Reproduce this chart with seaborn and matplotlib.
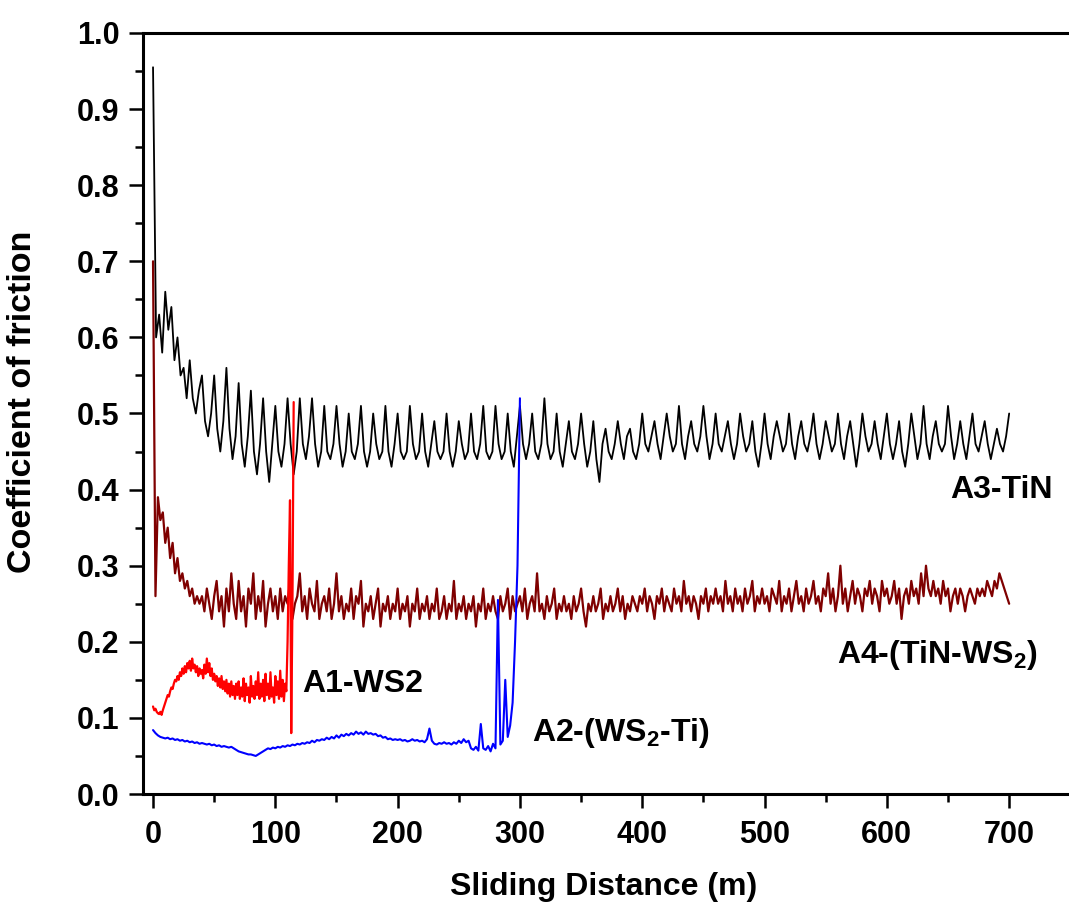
import numpy as np
import pandas as pd
import matplotlib
matplotlib.use("Agg")
import matplotlib.pyplot as plt
import seaborn as sns
from matplotlib.ticker import MultipleLocator, FormatStrFormatter

# ---------------- data ----------------
# A3-TiN (black), sampled every 2.5 m from 0 to 700 m
a3_step = 2.5
a3_cof = [
    0.955, 0.60, 0.63, 0.58, 0.66, 0.61, 0.64, 0.57, 0.60, 0.55, 0.56, 0.52,
    0.57, 0.52, 0.50, 0.53, 0.55, 0.49, 0.47, 0.50, 0.55, 0.48, 0.45, 0.49,
    0.56, 0.48, 0.44, 0.47, 0.54, 0.46, 0.43, 0.47, 0.53, 0.45, 0.42, 0.46,
    0.52, 0.45, 0.41, 0.46, 0.51, 0.45, 0.43, 0.46, 0.52, 0.46, 0.42, 0.45,
    0.52, 0.46, 0.44, 0.47, 0.52, 0.46, 0.43, 0.45, 0.51, 0.45, 0.44, 0.46,
    0.51, 0.46, 0.43, 0.45, 0.50, 0.45, 0.44, 0.46, 0.51, 0.45, 0.43, 0.45,
    0.50, 0.46, 0.44, 0.45, 0.51, 0.45, 0.43, 0.46, 0.50, 0.45, 0.44, 0.45,
    0.51, 0.46, 0.44, 0.45, 0.50, 0.45, 0.43, 0.46, 0.49, 0.45, 0.44, 0.45,
    0.50, 0.45, 0.43, 0.45, 0.49, 0.46, 0.44, 0.45, 0.50, 0.45, 0.44, 0.46,
    0.51, 0.45, 0.44, 0.45, 0.51, 0.46, 0.44, 0.45, 0.50, 0.45, 0.43, 0.47,
    0.51, 0.46, 0.44, 0.46, 0.50, 0.45, 0.44, 0.46, 0.52, 0.46, 0.44, 0.45,
    0.50, 0.45, 0.43, 0.46, 0.49, 0.45, 0.44, 0.46, 0.50, 0.46, 0.43, 0.45,
    0.49, 0.44, 0.41, 0.46, 0.48, 0.45, 0.44, 0.46, 0.49, 0.46, 0.44, 0.47,
    0.48, 0.45, 0.44, 0.46, 0.50, 0.46, 0.45, 0.47, 0.49, 0.46, 0.44, 0.47,
    0.50, 0.47, 0.45, 0.46, 0.51, 0.46, 0.44, 0.47, 0.49, 0.46, 0.45, 0.47,
    0.51, 0.47, 0.44, 0.46, 0.50, 0.46, 0.45, 0.47, 0.49, 0.46, 0.44, 0.46,
    0.50, 0.47, 0.45, 0.46, 0.49, 0.45, 0.43, 0.46, 0.50, 0.46, 0.44, 0.47,
    0.49, 0.47, 0.45, 0.46, 0.50, 0.46, 0.44, 0.47, 0.49, 0.46, 0.45, 0.47,
    0.50, 0.46, 0.44, 0.46, 0.49, 0.47, 0.45, 0.46, 0.50, 0.46, 0.44, 0.47,
    0.49, 0.46, 0.43, 0.46, 0.50, 0.47, 0.45, 0.46, 0.49, 0.46, 0.44, 0.47,
    0.50, 0.46, 0.44, 0.46, 0.49, 0.45, 0.43, 0.46, 0.50, 0.47, 0.44, 0.46,
    0.51, 0.46, 0.44, 0.47, 0.49, 0.46, 0.45, 0.46, 0.51, 0.47, 0.44, 0.46,
    0.49, 0.46, 0.44, 0.47, 0.50, 0.46, 0.45, 0.47, 0.49, 0.46, 0.44, 0.46,
    0.48, 0.46, 0.45, 0.47, 0.50,
]

# A4-(TiN-WS2) (dark red), sampled every 2 m from 0 to 700 m
a4_step = 2.0
a4_cof = [
    0.70, 0.26, 0.39, 0.36, 0.37, 0.33, 0.35, 0.31, 0.33, 0.29,
    0.31, 0.28, 0.29, 0.27, 0.28, 0.26, 0.27, 0.25, 0.26, 0.25,
    0.26, 0.24, 0.27, 0.25, 0.23, 0.26, 0.28, 0.24, 0.26, 0.22,
    0.27, 0.24, 0.29, 0.25, 0.23, 0.28, 0.24, 0.26, 0.22, 0.27,
    0.25, 0.29, 0.23, 0.26, 0.24, 0.28, 0.22, 0.25, 0.27, 0.24,
    0.26, 0.23, 0.27, 0.24, 0.26, 0.25, 0.28, 0.23, 0.25, 0.26,
    0.29, 0.24, 0.26, 0.23, 0.27, 0.25, 0.24, 0.28, 0.23, 0.25,
    0.26, 0.24, 0.27, 0.23, 0.25, 0.29, 0.24, 0.26, 0.23, 0.25,
    0.24, 0.27, 0.23, 0.26, 0.25, 0.28, 0.22, 0.25, 0.24, 0.26,
    0.23, 0.25, 0.27, 0.22, 0.25, 0.24, 0.26, 0.23, 0.25, 0.24,
    0.27, 0.23, 0.25, 0.24, 0.26, 0.22, 0.25, 0.24, 0.27, 0.23,
    0.25, 0.24, 0.26, 0.23, 0.25, 0.24, 0.27, 0.23, 0.24, 0.26,
    0.23, 0.25, 0.24, 0.28, 0.23, 0.25, 0.24, 0.26, 0.23, 0.25,
    0.24, 0.26, 0.22, 0.25, 0.24, 0.27, 0.23, 0.25, 0.24, 0.26,
    0.24, 0.23, 0.26, 0.24, 0.25, 0.27, 0.23, 0.26, 0.24, 0.25,
    0.26, 0.24, 0.27, 0.23, 0.25, 0.26, 0.24, 0.29, 0.24, 0.25,
    0.23, 0.26, 0.24, 0.25, 0.27, 0.23, 0.25, 0.24, 0.26, 0.24,
    0.25, 0.23, 0.26, 0.24, 0.25, 0.27, 0.24, 0.22, 0.25, 0.24,
    0.26, 0.24, 0.25, 0.27, 0.23, 0.25, 0.24, 0.26, 0.24, 0.25,
    0.27, 0.24, 0.26, 0.23, 0.25, 0.24, 0.26, 0.25, 0.24, 0.26,
    0.25, 0.27, 0.24, 0.26, 0.25, 0.23, 0.26, 0.25, 0.27, 0.24,
    0.26, 0.25, 0.24, 0.27, 0.25, 0.26, 0.24, 0.28, 0.25, 0.26,
    0.24, 0.26, 0.25, 0.23, 0.26, 0.25, 0.27, 0.24, 0.26, 0.25,
    0.27, 0.25, 0.26, 0.24, 0.28, 0.25, 0.26, 0.24, 0.27, 0.25,
    0.26, 0.24, 0.27, 0.25, 0.26, 0.28, 0.24, 0.26, 0.25, 0.27,
    0.25, 0.26, 0.24, 0.27, 0.26, 0.25, 0.28, 0.24, 0.26, 0.25,
    0.27, 0.24, 0.26, 0.28, 0.25, 0.26, 0.24, 0.27, 0.25, 0.26,
    0.28, 0.25, 0.26, 0.24, 0.27, 0.26, 0.29, 0.25, 0.27, 0.24,
    0.26, 0.30, 0.25, 0.27, 0.24, 0.26, 0.28, 0.25, 0.27, 0.26,
    0.24, 0.27, 0.26, 0.28, 0.25, 0.27, 0.26, 0.24, 0.28, 0.26,
    0.27, 0.25, 0.26, 0.28, 0.25, 0.27, 0.23, 0.26, 0.27, 0.25,
    0.28, 0.26, 0.27, 0.25, 0.29, 0.26, 0.30, 0.27, 0.26, 0.28,
    0.26, 0.27, 0.25, 0.28, 0.26, 0.27, 0.24, 0.26, 0.27, 0.25,
    0.27, 0.26, 0.24, 0.26, 0.27, 0.26, 0.25, 0.27, 0.26, 0.27,
    0.26, 0.28, 0.27, 0.26, 0.28, 0.27, 0.29, 0.28, 0.27, 0.26,
    0.25,
]

# A1-WS2 (red), sampled every 1 m from 0 to 115 m
a1_step = 1.0
a1_cof = [
    0.115, 0.110, 0.112, 0.108, 0.106, 0.105, 0.108, 0.104, 0.110, 0.115,
    0.120, 0.125, 0.130, 0.128, 0.135, 0.140, 0.138, 0.145, 0.150, 0.148,
    0.155, 0.150, 0.160, 0.155, 0.165, 0.158, 0.168, 0.160, 0.172, 0.165,
    0.175, 0.162, 0.178, 0.165, 0.170, 0.160, 0.168, 0.155, 0.165, 0.158,
    0.163, 0.152, 0.170, 0.158, 0.178, 0.160, 0.172, 0.155, 0.165, 0.150,
    0.158, 0.148, 0.155, 0.142, 0.152, 0.140, 0.155, 0.138, 0.148, 0.135,
    0.150, 0.132, 0.145, 0.128, 0.148, 0.130, 0.142, 0.125, 0.145, 0.130,
    0.148, 0.125, 0.140, 0.128, 0.152, 0.122, 0.145, 0.130, 0.140, 0.120,
    0.155, 0.128, 0.142, 0.125, 0.148, 0.130, 0.160, 0.125, 0.145, 0.128,
    0.150, 0.122, 0.158, 0.130, 0.145, 0.125, 0.160, 0.128, 0.140, 0.120,
    0.155, 0.130, 0.148, 0.125, 0.162, 0.128, 0.150, 0.122, 0.145, 0.135,
    0.200, 0.300, 0.386, 0.080, 0.250, 0.515,
]

# A2-(WS2-Ti) (blue), sampled every 2 m from 0 to 300 m
a2_step = 2.0
a2_cof = [
    0.084, 0.080, 0.077, 0.075, 0.074, 0.073, 0.074, 0.072, 0.073, 0.071,
    0.072, 0.070, 0.071, 0.069, 0.070, 0.068, 0.069, 0.067, 0.068, 0.066,
    0.067, 0.066, 0.065, 0.066, 0.064, 0.065, 0.063, 0.064, 0.062, 0.063,
    0.062, 0.061, 0.062, 0.060, 0.058, 0.056, 0.055, 0.054, 0.053, 0.052,
    0.052, 0.051, 0.050, 0.052, 0.054, 0.056, 0.058, 0.060, 0.059, 0.061,
    0.060, 0.062, 0.061, 0.063, 0.062, 0.064, 0.063, 0.065, 0.064, 0.066,
    0.065, 0.067, 0.066, 0.068, 0.067, 0.070, 0.068, 0.071, 0.070, 0.072,
    0.071, 0.074, 0.072, 0.075, 0.073, 0.077, 0.074, 0.078, 0.076, 0.079,
    0.077, 0.080, 0.078, 0.082, 0.079, 0.081, 0.078, 0.082, 0.079, 0.080,
    0.078, 0.079, 0.076, 0.077, 0.074, 0.075, 0.072, 0.073, 0.071, 0.072,
    0.071, 0.072, 0.070, 0.071, 0.069, 0.070, 0.072, 0.070, 0.071, 0.069,
    0.070, 0.068, 0.072, 0.086, 0.070, 0.066, 0.065, 0.067, 0.066, 0.068,
    0.066, 0.067, 0.065, 0.068, 0.066, 0.070, 0.067, 0.072, 0.068, 0.070,
    0.060, 0.058, 0.062, 0.057, 0.092, 0.060, 0.058, 0.063, 0.056, 0.066,
    0.060, 0.255, 0.065, 0.070, 0.150, 0.075, 0.090, 0.120, 0.200, 0.300,
    0.520,
]

series_names = ["A3-TiN", "A4-(TiN-WS2)", "A1-WS2", "A2-(WS2-Ti)"]
series_colors = ["#000000", "#7f0000", "#ff0000", "#0000ff"]
series_widths = [1.3, 1.6, 1.6, 1.5]

x_ticks = [0, 100, 200, 300, 400, 500, 600, 700]
y_ticks = [0.0, 0.1, 0.2, 0.3, 0.4, 0.5, 0.6, 0.7, 0.8, 0.9, 1.0]

# ---------------- build long table ----------------
frames = []
for name, step, vals in zip(series_names,
                            [a3_step, a4_step, a1_step, a2_step],
                            [a3_cof, a4_cof, a1_cof, a2_cof]):
    v = np.asarray(vals, dtype=float)
    frames.append(pd.DataFrame({"dist": np.arange(len(v)) * step,
                                "cof": v, "sample": name}))
df = pd.concat(frames, ignore_index=True)

# ---------------- style ----------------
sns.set_style("ticks")
plt.rcParams["font.family"] = ["Liberation Sans", "DejaVu Sans"]
plt.rcParams["mathtext.fontset"] = "custom"
plt.rcParams["mathtext.rm"] = "Liberation Sans:bold"
plt.rcParams["mathtext.it"] = "Liberation Sans:bold"
plt.rcParams["mathtext.bf"] = "Liberation Sans:bold"
plt.rcParams["text.color"] = "black"
plt.rcParams["axes.labelcolor"] = "black"
plt.rcParams["xtick.color"] = "black"
plt.rcParams["ytick.color"] = "black"
plt.rcParams["axes.edgecolor"] = "black"

fig = plt.figure(figsize=(10.69, 9.05), dpi=100)
ax = fig.add_axes([143 / 1069, 111 / 905, 930 / 1069, 761 / 905])

for name, col, lw in zip(series_names, series_colors, series_widths):
    sns.lineplot(data=df[df["sample"] == name], x="dist", y="cof",
                 color=col, linewidth=lw, estimator=None, sort=False,
                 ax=ax, legend=False)

ax.set_xlim(-8.2, 752.2)
ax.set_ylim(0.0, 1.0)
ax.set_xticks(x_ticks)
ax.set_yticks(y_ticks)
ax.xaxis.set_minor_locator(MultipleLocator(50))
ax.yaxis.set_minor_locator(MultipleLocator(0.05))
ax.yaxis.set_major_formatter(FormatStrFormatter("%.1f"))

for s in ["left", "bottom", "top"]:
    ax.spines[s].set_linewidth(2.2)
    ax.spines[s].set_visible(True)
    ax.spines[s].set_color("black")
ax.spines["right"].set_visible(False)

ax.tick_params(axis="both", which="major", direction="out", length=10,
               width=1.8, labelsize=22, pad=7, colors="black")
ax.tick_params(axis="x", which="major", pad=9)
ax.tick_params(axis="both", which="minor", direction="out", length=6,
               width=1.8, colors="black")
for lab in ax.get_xticklabels() + ax.get_yticklabels():
    lab.set_fontweight("bold")

ax.set_xlabel("Sliding Distance (m)", fontsize=23, fontweight="bold")
ax.set_ylabel("Coefficient of friction", fontsize=24.5, fontweight="bold")
ax.xaxis.set_label_coords(0.495, -0.102)
ax.yaxis.set_label_coords(-0.113, 0.515)

ann_kw = dict(fontsize=23, fontweight="bold", ha="left", va="center")
ax.text(652, 0.40, "A3-TiN", **ann_kw)
ax.text(559, 0.183, r"A4-(TiN-WS$_2$)", **ann_kw)
ax.text(122, 0.145, "A1-WS2", **ann_kw)
ax.text(310, 0.080, r"A2-(WS$_2$-Ti)", **ann_kw)

fig.savefig("out.png", dpi=100)
